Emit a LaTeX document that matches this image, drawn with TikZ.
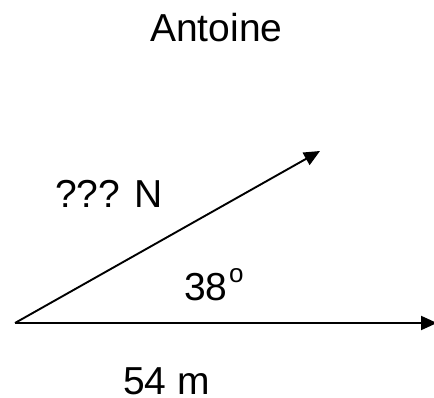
\documentclass[tikz,border=0pt]{standalone}
\usepackage{fontspec}
\setmainfont{Liberation Sans}
\usetikzlibrary{arrows.meta}
\begin{document}
\begin{tikzpicture}[x=1pt,y=-1pt,
  lbl/.style={anchor=base west,inner sep=0pt,font=\fontsize{39}{44}\selectfont},
  vec/.style={line width=1.9pt,-{Triangle[length=16pt,width=14pt]}}]
\useasboundingbox (0,0) rectangle (434,398);
\coordinate (O) at (15,323);
\coordinate (A) at (320,151);
\coordinate (B) at (437,323);
\draw[vec] (O) -- (A);
\draw[vec] (O) -- (B);
\node[lbl] (title) at (150,42) {Antoine};
\node[lbl] (force) at (55,208) {??? N};
\node[lbl] (angle) at (184,301) {38\kern1.5pt{\fontsize{26}{26}\selectfont\raisebox{18pt}{o}}};
\node[lbl] (dist) at (123,394) {54 m};
\end{tikzpicture}
\end{document}
